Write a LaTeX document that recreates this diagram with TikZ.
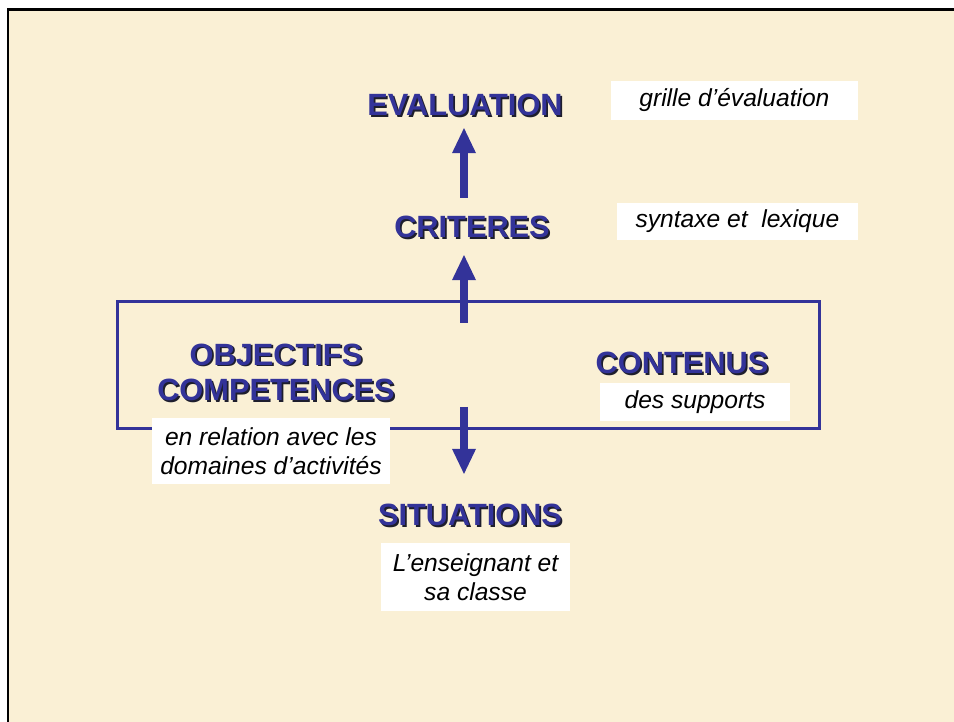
\documentclass[tikz,border=0pt]{standalone}
\usepackage{fontspec}
\setmainfont{Liberation Sans}
\usetikzlibrary{positioning,arrows.meta}
\definecolor{bleu}{RGB}{51,51,153}
\definecolor{ombre}{RGB}{30,30,45}
\definecolor{papier}{RGB}{250,240,213}
\newcommand{\enrelief}[1]{\rlap{\kern1pt\raisebox{-1pt}{\color{ombre}#1}}#1}

\begin{document}
\begin{tikzpicture}[x=0.02cm,y=-0.02cm,on grid,
    titre/.style={text=bleu,font=\fontsize{17.5}{20}\selectfont\bfseries,align=center,inner sep=0pt},
    note/.style={fill=white,font=\fontsize{14}{16.5}\selectfont\itshape,align=center,inner sep=0pt},
    fleche/.style={bleu,line width=0.16cm,-{Triangle[width=0.48cm,length=0.5cm,line width=0pt]}}]
             \useasboundingbox (0,0) rectangle (954,722);
             \fill[white] (0,0) rectangle (954,722);
             \fill[papier] (8,10) rectangle (954,722);
             \draw[line width=0.06cm] (8,722) -- (8,10) -- (954,10);
             \node[draw=bleu,line width=0.06cm,minimum width=14.06cm,minimum height=2.56cm] (cadre) at (468.5,365) {};
             \node[titre] (evaluation) at (465,106) {\enrelief{EVALUATION}};
             \node[titre] (criteres) at (472,228) {\enrelief{CRITERES}};
             \node[titre] (objectifs) at (276,373) {\enrelief{OBJECTIFS}\\\enrelief{COMPETENCES}};
             \node[titre] (contenus) at (682,364) {\enrelief{CONTENUS}};
             \node[titre] (situations) at (470,516) {\enrelief{SITUATIONS}};
             \node[note,minimum width=4.94cm,minimum height=0.78cm] (grille) [right=5.39cm of evaluation,yshift=0.11cm] {grille d’évaluation};
             \node[note,minimum width=4.82cm,minimum height=0.74cm] (syntaxe) [right=5.31cm of criteres,yshift=0.13cm] {syntaxe et~ lexique};
             \node[note,minimum width=3.8cm,minimum height=0.76cm] (supports) [below=0.76cm of contenus,xshift=0.26cm] {des supports};
             \node[note,minimum width=4.78cm,minimum height=1.32cm] (relation) [below=1.56cm of objectifs,xshift=-0.1cm] {en relation avec les\\domaines d’activités};
             \node[note,minimum width=3.78cm,minimum height=1.36cm] (enseignant) [below=1.22cm of situations,xshift=0.11cm] {L’enseignant et\\sa classe};
             \coordinate (haut) at (464,323);
             \coordinate (bas) at (464,407);
             \path[fleche]
             (criteres.north -| haut) edge[shorten <=0.36cm,shorten >=0.2cm] (evaluation.south -| haut)
             (haut) edge[shorten >=0.3cm] (criteres.south -| haut)
             (bas) edge[shorten >=0.6cm] (situations.north -| bas);
\end{tikzpicture}
\end{document}
